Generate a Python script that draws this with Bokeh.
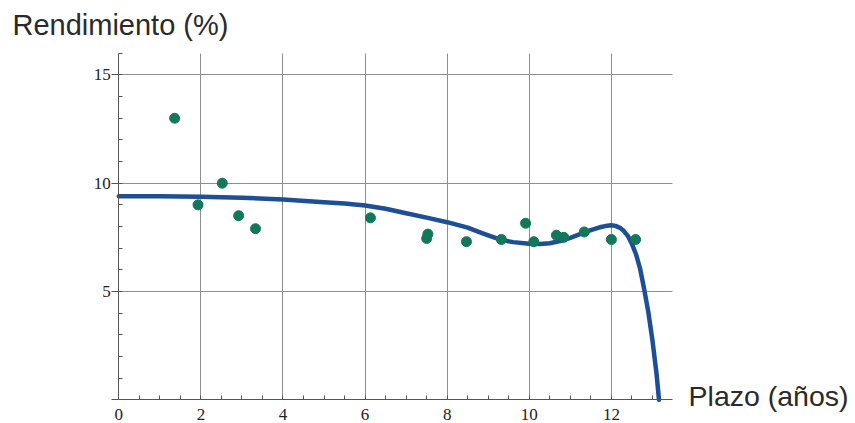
from bokeh.plotting import figure
from bokeh.models import Range1d, FixedTicker, Label, ColumnDataSource
from bokeh.embed import file_html
from bokeh.resources import INLINE

# Observed yields: term (years) and yield (%)
term_years = [1.36, 1.93, 2.52, 2.92, 3.33, 6.13, 7.50, 7.53, 8.47, 9.32,
              9.91, 10.11, 10.66, 10.84, 11.34, 12.00, 12.59]
yield_pct = [13.0, 9.0, 10.0, 8.5, 7.9, 8.4, 7.45, 7.65, 7.3, 7.4,
             8.15, 7.3, 7.6, 7.5, 7.75, 7.4, 7.4]

# Fitted yield curve
curve_term = [0, 1, 2, 3, 4, 5, 5.5, 6, 6.5, 7, 7.5, 8, 8.5, 8.8, 9, 9.3,
              9.6, 10, 10.25, 10.5, 10.75, 11, 11.25, 11.5, 11.75, 11.9,
              12, 12.1, 12.2, 12.3, 12.4, 12.5, 12.6, 12.7, 12.8, 12.9,
              13, 13.1, 13.16]
curve_yield = [9.4, 9.4, 9.38, 9.33, 9.25, 9.12, 9.06, 8.97, 8.82, 8.61,
               8.41, 8.2, 7.95, 7.73, 7.59, 7.39, 7.28, 7.2, 7.19, 7.23,
               7.33, 7.48, 7.66, 7.83, 7.98, 8.04, 8.06, 8.03, 7.95, 7.8,
               7.57, 7.2, 6.72, 6.05, 5.1, 4.05, 2.75, 1.2, 0.0]

x_major = [0, 2, 4, 6, 8, 10, 12]
x_minor = [0.5 * k for k in range(1, 27)]
y_major = [0, 5, 10, 15]
y_minor = list(range(1, 17))
x_extent = (0, 13.5)
y_extent = (0, 16)

y_title = "Rendimiento (%)"
x_title = "Plazo (años)"

# The frame fills the whole canvas; axes sit at x=0 / y=0 inside it
p = figure(width=855, height=423, output_backend="svg", toolbar_location=None,
           x_range=Range1d(-2.882, 17.947), y_range=Range1d(-1.094, 18.435),
           min_border_left=0, min_border_right=0,
           min_border_top=0, min_border_bottom=0)
p.outline_line_color = None
p.background_fill_color = "white"
p.border_fill_color = "white"

p.xaxis.fixed_location = 0
p.yaxis.fixed_location = 0
p.xaxis.bounds = x_extent
p.yaxis.bounds = y_extent
p.xaxis.ticker = FixedTicker(ticks=x_major, minor_ticks=x_minor)
p.yaxis.ticker = FixedTicker(ticks=y_major, minor_ticks=y_minor)
p.yaxis.major_label_overrides = {0: ""}

for ax in (p.xaxis, p.yaxis):
    ax.axis_line_color = "#555555"
    ax.axis_line_width = 1
    ax.major_tick_line_color = "#555555"
    ax.minor_tick_line_color = "#555555"
    ax.major_label_text_font = "Liberation Serif"
    ax.major_label_text_font_size = "17px"
    ax.major_label_text_color = "#222222"
    ax.minor_tick_out = 0
    ax.minor_tick_in = 4

p.xaxis.major_tick_out = 0
p.xaxis.major_tick_in = 0
p.xaxis.major_label_standoff = 9
p.yaxis.major_tick_out = 7
p.yaxis.major_tick_in = 0
p.yaxis.major_label_standoff = 1

p.xgrid.ticker = FixedTicker(ticks=x_major[1:])
p.ygrid.ticker = FixedTicker(ticks=y_major[1:])
p.xgrid.cross_bounds = y_extent
p.ygrid.cross_bounds = x_extent
for g in (p.xgrid, p.ygrid):
    g.grid_line_color = "#8f8f8f"
    g.grid_line_width = 1

p.line(curve_term, curve_yield, line_color="#1c4f95", line_width=4.5,
       line_cap="round", line_join="round")

src = ColumnDataSource(dict(x=term_years, y=yield_pct))
p.scatter("x", "y", source=src, size=10, fill_color="#12785a",
          line_color="#12785a")

p.add_layout(Label(x=-2.59, y=17.32, text=y_title, text_font="Liberation Sans",
                   text_font_size="29px", text_color="#2a2a2a",
                   text_baseline="alphabetic", text_align="left"))
p.add_layout(Label(x=13.88, y=0.19, text=x_title, text_font="Liberation Sans",
                   text_font_size="28.5px", text_color="#2a2a2a",
                   text_baseline="alphabetic", text_align="left"))

open("out.html", "w").write(file_html(p, INLINE))
